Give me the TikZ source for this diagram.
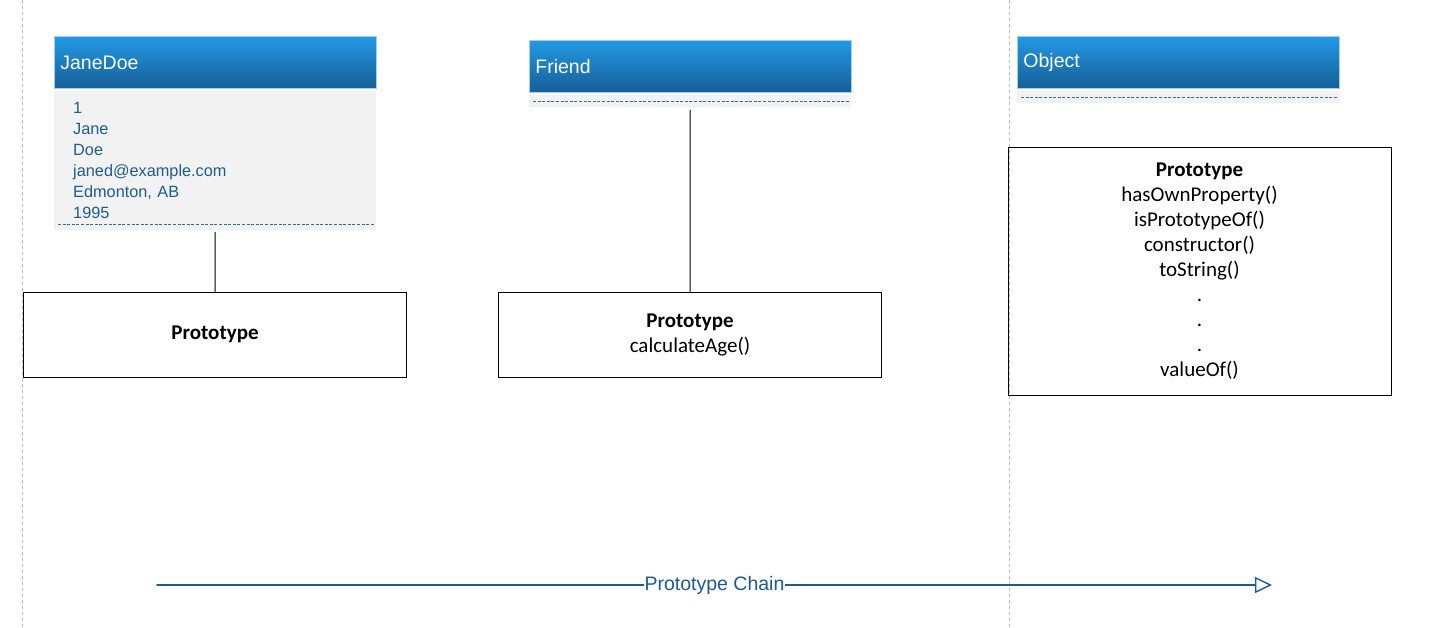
\documentclass[tikz,border=0pt]{standalone}
\usepackage{fontspec}
\setmainfont{Carlito}
\newfontfamily\headfont{Liberation Sans}
\usetikzlibrary{arrows.meta, positioning}

\begin{document}
\begin{tikzpicture}
			[x=1pt,y=-1pt,line cap=round,
			%Styles
			class head/.style={draw=headtop!45!white,line width=0.8pt,top color=headtop,bottom color=headbottom,
				anchor=north west,minimum width=322pt,minimum height=52pt,inner xsep=6pt,inner ysep=0pt,
				text width=310pt,align=left,text=white,font=\headfont\fontsize{19.5}{22}\selectfont},
			class body/.style={fill=fieldfill,anchor=north west,minimum width=322pt,minimum height=#1,
				inner xsep=19pt,inner ysep=0pt,text width=284pt,align=left,text=fieldtext,
				font=\headfont\fontsize{16.3}{21}\selectfont},
			field line/.style={fieldtext!90!white,dash pattern=on 3pt off 1.6pt,line width=1.4pt,line cap=butt},
			proto box/.style={draw,line width=0.9pt,minimum width=383pt,minimum height=#1,inner sep=0pt,
				align=center,font=\fontsize{21}{25}\selectfont},
			link/.style={line width=1pt},
			lane/.style={draw=black!25,dashed,line width=0.8pt},
			chain/.style={chainblue,line width=1.8pt,-{Triangle[open,length=17pt,width=16pt,line width=1.4pt]}},
			chain label/.style={fill=white,text=chainblue,inner sep=1pt,font=\headfont\fontsize{19.5}{21}\selectfont}
			]
			
			%Colors
			\definecolor{headtop}{HTML}{2399E4}
			\definecolor{headbottom}{HTML}{165F97}
			\definecolor{fieldtext}{HTML}{1F5C8E}
			\definecolor{fieldfill}{HTML}{F2F2F2}
			\definecolor{chainblue}{HTML}{1F5C8E}
			
			\useasboundingbox (0,0) rectangle (1431,627);
			
			%Lanes
			\draw[lane] (22,0) -- (22,627);
			\draw[lane] (1009,0) -- (1009,627);
			
			%JaneDoe
			\node[class head] (jane head) at (54,36) {JaneDoe};
			\node[class body=139pt] (jane body) at (54,91) {1\\Jane\\Doe\\janed@example.com\\Edmonton, AB\\1995};
			\draw[field line] ([xshift=4pt,yshift=6pt]jane body.south west) -- ([xshift=-2pt,yshift=6pt]jane body.south east);
			\node[proto box=85pt] (jane proto) at (215,334.5) {\textbf{Prototype}};
			\draw[link] ([yshift=-2pt]jane body.south) -- (jane proto.north);
			
			%Friend
			\node[class head] (friend head) at (529,40) {Friend};
			\node[class body=12pt] (friend body) at (529,95) {};
			\draw[field line] ([xshift=4pt]friend body.west) -- ([xshift=-2pt]friend body.east);
			\node[proto box=85pt] (friend proto) at (690,334.5) {\textbf{Prototype}\\calculateAge()};
			\draw[link] ([yshift=-3pt]friend body.south) -- (friend proto.north);
			
			%Object
			\node[class head] (object head) at (1017,36) {Object};
			\node[class body=12pt] (object body) at (1017,91) {};
			\draw[field line] ([xshift=4pt]object body.west) -- ([xshift=-2pt]object body.east);
			\node[proto box=248pt] (object proto) at (1199.5,271) {\textbf{Prototype}\\hasOwnProperty()\\isPrototypeOf()\\constructor()\\toString()\\.\\.\\.\\valueOf()};
			
			%Chain
			\coordinate (chain start) at (157,585);
			\coordinate (chain end) at (1272,585);
			\draw[chain] (chain start) -- node[chain label] (chain text) {Prototype Chain} (chain end);
		\end{tikzpicture}
\end{document}
